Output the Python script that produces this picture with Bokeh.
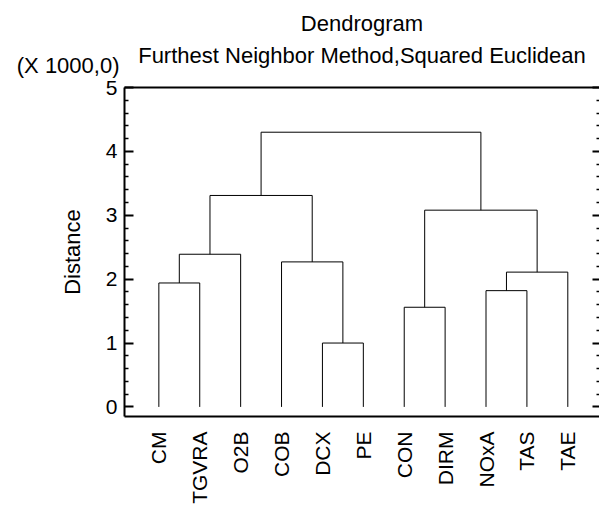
import math
from bokeh.plotting import figure
from bokeh.models import Range1d, LinearAxis, FixedTicker, Title
from bokeh.embed import file_html
from bokeh.resources import INLINE

# Leaves in dendrogram order
leaves = ["CM", "TGVRA", "O2B", "COB", "DCX", "PE", "CON", "DIRM", "NOxA", "TAS", "TAE"]

# Agglomeration steps (furthest neighbour, squared Euclidean): members joined and distance
merge_left = ["CM", "C1", "DCX", "COB", "C2", "CON", "NOxA", "C7", "C6", "C5"]
merge_right = ["TGVRA", "O2B", "PE", "C3", "C4", "DIRM", "TAS", "TAE", "C8", "C9"]
merge_dist = [1940, 2390, 1000, 2270, 3310, 1560, 1820, 2110, 3080, 4300]

# Distance axis ticks (in thousands)
y_ticks = [0, 1, 2, 3, 4, 5]
y_minor = [i / 5 for i in range(26) if i % 5]

SCALE = 1000.0
FONT = "Liberation Sans"

# Build the U-shaped links of the tree
pos = {name: i + 1 for i, name in enumerate(leaves)}
hgt = {name: 0.0 for name in leaves}
xs, ys = [], []
for k, (a, b, d) in enumerate(zip(merge_left, merge_right, merge_dist)):
    h = d / SCALE
    xa, xb = pos[a], pos[b]
    xs.append([xa, xa, xb, xb])
    ys.append([hgt[a], h, h, hgt[b]])
    cid = f"C{k + 1}"
    pos[cid] = (xa + xb) / 2.0
    hgt[cid] = h

XMIN, XMAX = 0.16, 11.775
YMIN, YMAX = -0.15, 5.0

p = figure(width=599, height=506, x_range=Range1d(XMIN, XMAX), y_range=Range1d(YMIN, YMAX),
           output_backend="svg", toolbar_location=None, title=None,
           min_border_left=124, min_border_top=87, min_border_bottom=84, min_border_right=0)
p.outline_line_color = None
p.xgrid.visible = False
p.ygrid.visible = False
p.background_fill_color = "white"
p.border_fill_color = "white"

p.multi_line(xs, ys, line_color="black", line_width=1)

# Bottom axis with the leaf names
xa = p.xaxis[0]
xa.ticker = FixedTicker(ticks=list(range(1, len(leaves) + 1)))
xa.major_label_overrides = {i + 1: n for i, n in enumerate(leaves)}
xa.major_label_orientation = math.pi / 2
xa.major_label_text_font = FONT
xa.major_label_text_font_size = "21px"
xa.major_label_text_color = "black"
xa.major_label_standoff = 9
xa.major_tick_line_color = None
xa.minor_tick_line_color = None
xa.axis_line_width = 2
xa.axis_line_color = "black"

# Left axis
ya = p.yaxis[0]
ya.ticker = FixedTicker(ticks=y_ticks, minor_ticks=y_minor)
ya.axis_label = "Distance"
ya.axis_label_text_font = FONT
ya.axis_label_text_font_size = "22px"
ya.axis_label_text_font_style = "normal"
ya.axis_label_text_color = "black"
ya.axis_label_standoff = 18
ya.major_label_text_font = FONT
ya.major_label_text_font_size = "21px"
ya.major_label_text_color = "black"
ya.major_label_standoff = 7
ya.major_tick_in = 9
ya.major_tick_out = 0
ya.minor_tick_in = 4
ya.minor_tick_out = 0
ya.major_tick_line_width = 2
ya.minor_tick_line_width = 1.5
ya.major_tick_line_color = "black"
ya.minor_tick_line_color = "black"
ya.axis_line_width = 2
ya.axis_line_color = "black"

# Scale note of the distance axis, set beside the top of the scale
note = LinearAxis(ticker=FixedTicker(ticks=[YMAX]))
note.major_label_overrides = {YMAX: "(X 1000,0)\n"}
note.major_label_text_font = FONT
note.major_label_text_font_size = "22px"
note.major_label_text_color = "black"
note.major_label_text_line_height = 1.76
note.major_label_standoff = -69
note.major_tick_line_color = None
note.minor_tick_line_color = None
note.axis_line_color = None
p.add_layout(note, "left")

# Right axis: inward ticks only
ra = LinearAxis(ticker=FixedTicker(ticks=y_ticks, minor_ticks=y_minor))
ra.major_label_overrides = {t: "" for t in y_ticks}
ra.major_label_standoff = 0
ra.major_tick_in = 7
ra.major_tick_out = 0
ra.minor_tick_in = 3
ra.minor_tick_out = 0
ra.major_tick_line_width = 2
ra.minor_tick_line_width = 1.5
ra.axis_line_color = None
p.add_layout(ra, "right")

# Top frame line
ta = LinearAxis(ticker=FixedTicker(ticks=[]))
ta.major_label_standoff = 0
ta.major_tick_line_color = None
ta.minor_tick_line_color = None
ta.axis_line_width = 2
ta.axis_line_color = "black"
p.add_layout(ta, "above")

# Two-line heading
sub = Title(text="Furthest Neighbor Method,Squared Euclidean", align="center",
            text_font=FONT, text_font_size="22px", text_font_style="normal",
            text_color="black", standoff=39)
p.add_layout(sub, "above")
head = Title(text="Dendrogram", align="center", text_font=FONT, text_font_size="22px",
             text_font_style="normal", text_color="black", standoff=-29)
p.add_layout(head, "above")

open("out.html", "w").write(file_html(p, INLINE))
